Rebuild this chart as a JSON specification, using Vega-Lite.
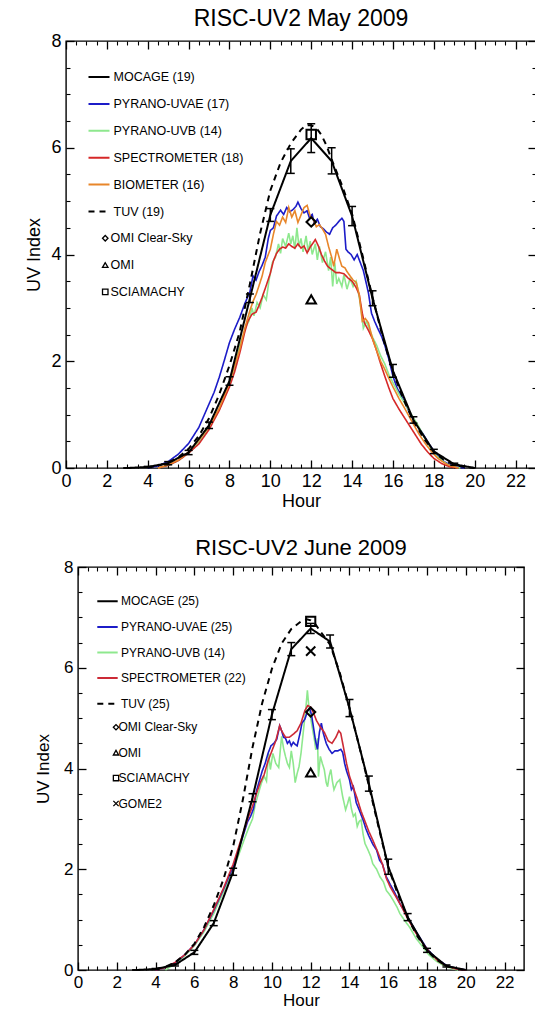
{
"$schema": "https://vega.github.io/schema/vega-lite/v6.json",
"padding": {"left": 25, "top": 7, "right": 0, "bottom": 0},
"bounds": "flush",
"center": true,
"spacing": 99,
"config": {
  "view": {"stroke": "black", "strokeWidth": 1.4},
  "font": "Liberation Sans",
  "axis": {"grid": false, "domain": false, "tickColor": "black", "labelColor": "black", "titleColor": "black", "labelFlush": false, "labelOverlap": false, "titleFontWeight": "normal", "labelFont": "Liberation Sans", "titleFont": "Liberation Sans"},
  "title": {"fontWeight": "normal", "color": "black", "font": "Liberation Sans", "frame": "group", "anchor": "middle"},
  "legend": {"labelFont": "Liberation Sans", "labelColor": "black", "title": null, "padding": 0, "labelLimit": 400}
},
"datasets": {
  "may_meas": [
    {"series":"PYRANO-UVAE (17)","hour":4.0,"uv":0.0},{"series":"PYRANO-UVAE (17)","hour":4.5,"uv":0.04},{"series":"PYRANO-UVAE (17)","hour":5.0,"uv":0.12},{"series":"PYRANO-UVAE (17)","hour":5.5,"uv":0.26},{"series":"PYRANO-UVAE (17)","hour":6.0,"uv":0.46},{"series":"PYRANO-UVAE (17)","hour":6.5,"uv":0.76},{"series":"PYRANO-UVAE (17)","hour":7.0,"uv":1.2},{"series":"PYRANO-UVAE (17)","hour":7.25,"uv":1.42},{"series":"PYRANO-UVAE (17)","hour":7.5,"uv":1.7},{"series":"PYRANO-UVAE (17)","hour":7.75,"uv":2.02},{"series":"PYRANO-UVAE (17)","hour":8.0,"uv":2.35},{"series":"PYRANO-UVAE (17)","hour":8.25,"uv":2.6},{"series":"PYRANO-UVAE (17)","hour":8.5,"uv":2.82},{"series":"PYRANO-UVAE (17)","hour":8.75,"uv":3.08},{"series":"PYRANO-UVAE (17)","hour":9.0,"uv":3.3},{"series":"PYRANO-UVAE (17)","hour":9.15,"uv":3.6},{"series":"PYRANO-UVAE (17)","hour":9.3,"uv":3.52},{"series":"PYRANO-UVAE (17)","hour":9.45,"uv":3.68},{"series":"PYRANO-UVAE (17)","hour":9.6,"uv":3.8},{"series":"PYRANO-UVAE (17)","hour":9.75,"uv":3.95},{"series":"PYRANO-UVAE (17)","hour":9.9,"uv":4.3},{"series":"PYRANO-UVAE (17)","hour":10.0,"uv":4.45},{"series":"PYRANO-UVAE (17)","hour":10.15,"uv":4.5},{"series":"PYRANO-UVAE (17)","hour":10.3,"uv":4.72},{"series":"PYRANO-UVAE (17)","hour":10.5,"uv":4.83},{"series":"PYRANO-UVAE (17)","hour":10.65,"uv":4.75},{"series":"PYRANO-UVAE (17)","hour":10.8,"uv":4.88},{"series":"PYRANO-UVAE (17)","hour":10.95,"uv":4.8},{"series":"PYRANO-UVAE (17)","hour":11.1,"uv":4.84},{"series":"PYRANO-UVAE (17)","hour":11.25,"uv":4.9},{"series":"PYRANO-UVAE (17)","hour":11.35,"uv":4.98},{"series":"PYRANO-UVAE (17)","hour":11.5,"uv":4.86},{"series":"PYRANO-UVAE (17)","hour":11.65,"uv":4.78},{"series":"PYRANO-UVAE (17)","hour":11.8,"uv":4.82},{"series":"PYRANO-UVAE (17)","hour":11.9,"uv":4.7},{"series":"PYRANO-UVAE (17)","hour":12.05,"uv":4.75},{"series":"PYRANO-UVAE (17)","hour":12.15,"uv":4.58},{"series":"PYRANO-UVAE (17)","hour":12.3,"uv":4.66},{"series":"PYRANO-UVAE (17)","hour":12.45,"uv":4.52},{"series":"PYRANO-UVAE (17)","hour":12.6,"uv":4.48},{"series":"PYRANO-UVAE (17)","hour":12.75,"uv":4.42},{"series":"PYRANO-UVAE (17)","hour":12.9,"uv":4.38},{"series":"PYRANO-UVAE (17)","hour":13.05,"uv":4.5},{"series":"PYRANO-UVAE (17)","hour":13.2,"uv":4.55},{"series":"PYRANO-UVAE (17)","hour":13.35,"uv":4.62},{"series":"PYRANO-UVAE (17)","hour":13.5,"uv":4.68},{"series":"PYRANO-UVAE (17)","hour":13.6,"uv":4.62},{"series":"PYRANO-UVAE (17)","hour":13.7,"uv":4.1},{"series":"PYRANO-UVAE (17)","hour":13.8,"uv":4.05},{"series":"PYRANO-UVAE (17)","hour":13.95,"uv":4.0},{"series":"PYRANO-UVAE (17)","hour":14.1,"uv":3.9},{"series":"PYRANO-UVAE (17)","hour":14.25,"uv":4.0},{"series":"PYRANO-UVAE (17)","hour":14.4,"uv":3.85},{"series":"PYRANO-UVAE (17)","hour":14.55,"uv":3.7},{"series":"PYRANO-UVAE (17)","hour":14.7,"uv":3.45},{"series":"PYRANO-UVAE (17)","hour":14.8,"uv":3.28},{"series":"PYRANO-UVAE (17)","hour":14.95,"uv":2.9},{"series":"PYRANO-UVAE (17)","hour":15.1,"uv":2.75},{"series":"PYRANO-UVAE (17)","hour":15.25,"uv":2.62},{"series":"PYRANO-UVAE (17)","hour":15.45,"uv":2.46},{"series":"PYRANO-UVAE (17)","hour":15.6,"uv":2.3},{"series":"PYRANO-UVAE (17)","hour":15.8,"uv":2.04},{"series":"PYRANO-UVAE (17)","hour":16.0,"uv":1.72},{"series":"PYRANO-UVAE (17)","hour":16.2,"uv":1.5},{"series":"PYRANO-UVAE (17)","hour":16.4,"uv":1.36},{"series":"PYRANO-UVAE (17)","hour":16.6,"uv":1.22},{"series":"PYRANO-UVAE (17)","hour":16.8,"uv":1.04},{"series":"PYRANO-UVAE (17)","hour":17.0,"uv":0.92},{"series":"PYRANO-UVAE (17)","hour":17.25,"uv":0.76},{"series":"PYRANO-UVAE (17)","hour":17.5,"uv":0.62},{"series":"PYRANO-UVAE (17)","hour":17.75,"uv":0.46},{"series":"PYRANO-UVAE (17)","hour":18.0,"uv":0.32},{"series":"PYRANO-UVAE (17)","hour":18.25,"uv":0.21},{"series":"PYRANO-UVAE (17)","hour":18.5,"uv":0.12},{"series":"PYRANO-UVAE (17)","hour":18.75,"uv":0.07},{"series":"PYRANO-UVAE (17)","hour":19.0,"uv":0.03},{"series":"PYRANO-UVAE (17)","hour":19.5,"uv":0.0},
    {"series":"PYRANO-UVB (14)","hour":4.5,"uv":0.0},{"series":"PYRANO-UVB (14)","hour":5.0,"uv":0.05},{"series":"PYRANO-UVB (14)","hour":5.5,"uv":0.14},{"series":"PYRANO-UVB (14)","hour":6.0,"uv":0.28},{"series":"PYRANO-UVB (14)","hour":6.5,"uv":0.48},{"series":"PYRANO-UVB (14)","hour":7.0,"uv":0.75},{"series":"PYRANO-UVB (14)","hour":7.5,"uv":1.1},{"series":"PYRANO-UVB (14)","hour":8.0,"uv":1.55},{"series":"PYRANO-UVB (14)","hour":8.25,"uv":1.85},{"series":"PYRANO-UVB (14)","hour":8.5,"uv":2.3},{"series":"PYRANO-UVB (14)","hour":8.65,"uv":2.45},{"series":"PYRANO-UVB (14)","hour":8.8,"uv":2.65},{"series":"PYRANO-UVB (14)","hour":8.95,"uv":2.75},{"series":"PYRANO-UVB (14)","hour":9.1,"uv":3.0},{"series":"PYRANO-UVB (14)","hour":9.2,"uv":2.85},{"series":"PYRANO-UVB (14)","hour":9.35,"uv":3.1},{"series":"PYRANO-UVB (14)","hour":9.5,"uv":3.0},{"series":"PYRANO-UVB (14)","hour":9.65,"uv":3.25},{"series":"PYRANO-UVB (14)","hour":9.8,"uv":3.15},{"series":"PYRANO-UVB (14)","hour":9.95,"uv":3.55},{"series":"PYRANO-UVB (14)","hour":10.1,"uv":3.85},{"series":"PYRANO-UVB (14)","hour":10.25,"uv":3.95},{"series":"PYRANO-UVB (14)","hour":10.4,"uv":4.2},{"series":"PYRANO-UVB (14)","hour":10.5,"uv":4.02},{"series":"PYRANO-UVB (14)","hour":10.6,"uv":4.3},{"series":"PYRANO-UVB (14)","hour":10.75,"uv":4.15},{"series":"PYRANO-UVB (14)","hour":10.9,"uv":4.4},{"series":"PYRANO-UVB (14)","hour":11.0,"uv":4.2},{"series":"PYRANO-UVB (14)","hour":11.1,"uv":4.35},{"series":"PYRANO-UVB (14)","hour":11.2,"uv":4.1},{"series":"PYRANO-UVB (14)","hour":11.3,"uv":4.5},{"series":"PYRANO-UVB (14)","hour":11.4,"uv":4.15},{"series":"PYRANO-UVB (14)","hour":11.5,"uv":4.3},{"series":"PYRANO-UVB (14)","hour":11.6,"uv":4.05},{"series":"PYRANO-UVB (14)","hour":11.75,"uv":4.35},{"series":"PYRANO-UVB (14)","hour":11.85,"uv":4.05},{"series":"PYRANO-UVB (14)","hour":11.95,"uv":4.25},{"series":"PYRANO-UVB (14)","hour":12.05,"uv":4.0},{"series":"PYRANO-UVB (14)","hour":12.2,"uv":4.2},{"series":"PYRANO-UVB (14)","hour":12.3,"uv":3.9},{"series":"PYRANO-UVB (14)","hour":12.4,"uv":4.15},{"series":"PYRANO-UVB (14)","hour":12.55,"uv":3.85},{"series":"PYRANO-UVB (14)","hour":12.7,"uv":4.05},{"series":"PYRANO-UVB (14)","hour":12.85,"uv":3.7},{"series":"PYRANO-UVB (14)","hour":12.95,"uv":3.95},{"series":"PYRANO-UVB (14)","hour":13.05,"uv":3.4},{"series":"PYRANO-UVB (14)","hour":13.15,"uv":3.85},{"series":"PYRANO-UVB (14)","hour":13.25,"uv":3.45},{"series":"PYRANO-UVB (14)","hour":13.35,"uv":3.55},{"series":"PYRANO-UVB (14)","hour":13.5,"uv":3.4},{"series":"PYRANO-UVB (14)","hour":13.6,"uv":3.62},{"series":"PYRANO-UVB (14)","hour":13.75,"uv":3.35},{"series":"PYRANO-UVB (14)","hour":13.9,"uv":3.55},{"series":"PYRANO-UVB (14)","hour":14.05,"uv":3.4},{"series":"PYRANO-UVB (14)","hour":14.2,"uv":3.5},{"series":"PYRANO-UVB (14)","hour":14.35,"uv":3.2},{"series":"PYRANO-UVB (14)","hour":14.45,"uv":2.95},{"series":"PYRANO-UVB (14)","hour":14.55,"uv":2.62},{"series":"PYRANO-UVB (14)","hour":14.7,"uv":2.75},{"series":"PYRANO-UVB (14)","hour":14.85,"uv":2.6},{"series":"PYRANO-UVB (14)","hour":15.0,"uv":2.45},{"series":"PYRANO-UVB (14)","hour":15.2,"uv":2.3},{"series":"PYRANO-UVB (14)","hour":15.4,"uv":2.1},{"series":"PYRANO-UVB (14)","hour":15.6,"uv":1.95},{"series":"PYRANO-UVB (14)","hour":15.8,"uv":1.75},{"series":"PYRANO-UVB (14)","hour":16.0,"uv":1.6},{"series":"PYRANO-UVB (14)","hour":16.3,"uv":1.38},{"series":"PYRANO-UVB (14)","hour":16.6,"uv":1.2},{"series":"PYRANO-UVB (14)","hour":16.9,"uv":1.0},{"series":"PYRANO-UVB (14)","hour":17.2,"uv":0.82},{"series":"PYRANO-UVB (14)","hour":17.5,"uv":0.6},{"series":"PYRANO-UVB (14)","hour":17.8,"uv":0.4},{"series":"PYRANO-UVB (14)","hour":18.1,"uv":0.24},{"series":"PYRANO-UVB (14)","hour":18.4,"uv":0.14},{"series":"PYRANO-UVB (14)","hour":18.7,"uv":0.06},{"series":"PYRANO-UVB (14)","hour":19.0,"uv":0.02},{"series":"PYRANO-UVB (14)","hour":19.3,"uv":0.0},
    {"series":"SPECTROMETER (18)","hour":4.5,"uv":0.0},{"series":"SPECTROMETER (18)","hour":5.0,"uv":0.05},{"series":"SPECTROMETER (18)","hour":5.5,"uv":0.14},{"series":"SPECTROMETER (18)","hour":6.0,"uv":0.28},{"series":"SPECTROMETER (18)","hour":6.5,"uv":0.45},{"series":"SPECTROMETER (18)","hour":7.0,"uv":0.72},{"series":"SPECTROMETER (18)","hour":7.5,"uv":1.08},{"series":"SPECTROMETER (18)","hour":8.0,"uv":1.52},{"series":"SPECTROMETER (18)","hour":8.25,"uv":1.8},{"series":"SPECTROMETER (18)","hour":8.5,"uv":2.15},{"series":"SPECTROMETER (18)","hour":8.75,"uv":2.55},{"series":"SPECTROMETER (18)","hour":8.9,"uv":2.75},{"series":"SPECTROMETER (18)","hour":9.1,"uv":2.88},{"series":"SPECTROMETER (18)","hour":9.3,"uv":2.92},{"series":"SPECTROMETER (18)","hour":9.45,"uv":3.05},{"series":"SPECTROMETER (18)","hour":9.6,"uv":3.2},{"series":"SPECTROMETER (18)","hour":9.8,"uv":3.42},{"series":"SPECTROMETER (18)","hour":10.0,"uv":3.65},{"series":"SPECTROMETER (18)","hour":10.15,"uv":3.88},{"series":"SPECTROMETER (18)","hour":10.3,"uv":4.02},{"series":"SPECTROMETER (18)","hour":10.45,"uv":4.1},{"series":"SPECTROMETER (18)","hour":10.6,"uv":4.14},{"series":"SPECTROMETER (18)","hour":10.75,"uv":4.12},{"series":"SPECTROMETER (18)","hour":10.9,"uv":4.2},{"series":"SPECTROMETER (18)","hour":11.05,"uv":4.15},{"series":"SPECTROMETER (18)","hour":11.2,"uv":4.12},{"series":"SPECTROMETER (18)","hour":11.35,"uv":4.2},{"series":"SPECTROMETER (18)","hour":11.5,"uv":4.12},{"series":"SPECTROMETER (18)","hour":11.65,"uv":4.16},{"series":"SPECTROMETER (18)","hour":11.8,"uv":4.03},{"series":"SPECTROMETER (18)","hour":11.95,"uv":4.14},{"series":"SPECTROMETER (18)","hour":12.1,"uv":4.22},{"series":"SPECTROMETER (18)","hour":12.2,"uv":4.28},{"series":"SPECTROMETER (18)","hour":12.35,"uv":4.16},{"series":"SPECTROMETER (18)","hour":12.5,"uv":4.0},{"series":"SPECTROMETER (18)","hour":12.65,"uv":3.88},{"series":"SPECTROMETER (18)","hour":12.8,"uv":3.78},{"series":"SPECTROMETER (18)","hour":13.0,"uv":3.72},{"series":"SPECTROMETER (18)","hour":13.2,"uv":3.66},{"series":"SPECTROMETER (18)","hour":13.4,"uv":3.66},{"series":"SPECTROMETER (18)","hour":13.6,"uv":3.64},{"series":"SPECTROMETER (18)","hour":13.8,"uv":3.56},{"series":"SPECTROMETER (18)","hour":14.0,"uv":3.5},{"series":"SPECTROMETER (18)","hour":14.2,"uv":3.38},{"series":"SPECTROMETER (18)","hour":14.35,"uv":3.25},{"series":"SPECTROMETER (18)","hour":14.5,"uv":2.9},{"series":"SPECTROMETER (18)","hour":14.6,"uv":2.72},{"series":"SPECTROMETER (18)","hour":14.8,"uv":2.58},{"series":"SPECTROMETER (18)","hour":15.0,"uv":2.42},{"series":"SPECTROMETER (18)","hour":15.2,"uv":2.2},{"series":"SPECTROMETER (18)","hour":15.4,"uv":1.95},{"series":"SPECTROMETER (18)","hour":15.6,"uv":1.72},{"series":"SPECTROMETER (18)","hour":15.8,"uv":1.5},{"series":"SPECTROMETER (18)","hour":16.0,"uv":1.3},{"series":"SPECTROMETER (18)","hour":16.3,"uv":1.1},{"series":"SPECTROMETER (18)","hour":16.6,"uv":0.92},{"series":"SPECTROMETER (18)","hour":17.0,"uv":0.68},{"series":"SPECTROMETER (18)","hour":17.4,"uv":0.44},{"series":"SPECTROMETER (18)","hour":17.7,"uv":0.3},{"series":"SPECTROMETER (18)","hour":18.0,"uv":0.18},{"series":"SPECTROMETER (18)","hour":18.4,"uv":0.08},{"series":"SPECTROMETER (18)","hour":18.8,"uv":0.02},{"series":"SPECTROMETER (18)","hour":19.2,"uv":0.0},
    {"series":"BIOMETER (16)","hour":4.5,"uv":0.0},{"series":"BIOMETER (16)","hour":5.0,"uv":0.06},{"series":"BIOMETER (16)","hour":5.5,"uv":0.15},{"series":"BIOMETER (16)","hour":6.0,"uv":0.3},{"series":"BIOMETER (16)","hour":6.5,"uv":0.52},{"series":"BIOMETER (16)","hour":7.0,"uv":0.78},{"series":"BIOMETER (16)","hour":7.5,"uv":1.12},{"series":"BIOMETER (16)","hour":8.0,"uv":1.6},{"series":"BIOMETER (16)","hour":8.25,"uv":1.92},{"series":"BIOMETER (16)","hour":8.5,"uv":2.22},{"series":"BIOMETER (16)","hour":8.75,"uv":2.62},{"series":"BIOMETER (16)","hour":9.0,"uv":2.95},{"series":"BIOMETER (16)","hour":9.15,"uv":3.12},{"series":"BIOMETER (16)","hour":9.3,"uv":3.25},{"series":"BIOMETER (16)","hour":9.45,"uv":3.42},{"series":"BIOMETER (16)","hour":9.6,"uv":3.6},{"series":"BIOMETER (16)","hour":9.75,"uv":3.85},{"series":"BIOMETER (16)","hour":9.9,"uv":4.0},{"series":"BIOMETER (16)","hour":10.0,"uv":4.1},{"series":"BIOMETER (16)","hour":10.15,"uv":4.38},{"series":"BIOMETER (16)","hour":10.3,"uv":4.62},{"series":"BIOMETER (16)","hour":10.45,"uv":4.55},{"series":"BIOMETER (16)","hour":10.6,"uv":4.7},{"series":"BIOMETER (16)","hour":10.75,"uv":4.6},{"series":"BIOMETER (16)","hour":10.9,"uv":4.88},{"series":"BIOMETER (16)","hour":11.05,"uv":4.7},{"series":"BIOMETER (16)","hour":11.2,"uv":4.82},{"series":"BIOMETER (16)","hour":11.35,"uv":4.6},{"series":"BIOMETER (16)","hour":11.5,"uv":4.74},{"series":"BIOMETER (16)","hour":11.65,"uv":4.88},{"series":"BIOMETER (16)","hour":11.8,"uv":4.92},{"series":"BIOMETER (16)","hour":11.95,"uv":4.72},{"series":"BIOMETER (16)","hour":12.1,"uv":4.66},{"series":"BIOMETER (16)","hour":12.25,"uv":4.52},{"series":"BIOMETER (16)","hour":12.4,"uv":4.56},{"series":"BIOMETER (16)","hour":12.55,"uv":4.48},{"series":"BIOMETER (16)","hour":12.7,"uv":4.38},{"series":"BIOMETER (16)","hour":12.85,"uv":4.15},{"series":"BIOMETER (16)","hour":13.0,"uv":3.95},{"series":"BIOMETER (16)","hour":13.1,"uv":3.78},{"series":"BIOMETER (16)","hour":13.25,"uv":4.1},{"series":"BIOMETER (16)","hour":13.4,"uv":3.9},{"series":"BIOMETER (16)","hour":13.5,"uv":3.78},{"series":"BIOMETER (16)","hour":13.65,"uv":3.75},{"series":"BIOMETER (16)","hour":13.75,"uv":3.68},{"series":"BIOMETER (16)","hour":13.9,"uv":3.6},{"series":"BIOMETER (16)","hour":14.05,"uv":3.52},{"series":"BIOMETER (16)","hour":14.2,"uv":3.48},{"series":"BIOMETER (16)","hour":14.35,"uv":3.25},{"series":"BIOMETER (16)","hour":14.5,"uv":2.75},{"series":"BIOMETER (16)","hour":14.65,"uv":2.8},{"series":"BIOMETER (16)","hour":14.8,"uv":2.72},{"series":"BIOMETER (16)","hour":15.0,"uv":2.42},{"series":"BIOMETER (16)","hour":15.2,"uv":2.2},{"series":"BIOMETER (16)","hour":15.4,"uv":2.0},{"series":"BIOMETER (16)","hour":15.6,"uv":1.85},{"series":"BIOMETER (16)","hour":15.8,"uv":1.68},{"series":"BIOMETER (16)","hour":16.0,"uv":1.52},{"series":"BIOMETER (16)","hour":16.3,"uv":1.3},{"series":"BIOMETER (16)","hour":16.6,"uv":1.1},{"series":"BIOMETER (16)","hour":17.0,"uv":0.82},{"series":"BIOMETER (16)","hour":17.3,"uv":0.62},{"series":"BIOMETER (16)","hour":17.6,"uv":0.45},{"series":"BIOMETER (16)","hour":17.9,"uv":0.3},{"series":"BIOMETER (16)","hour":18.2,"uv":0.18},{"series":"BIOMETER (16)","hour":18.5,"uv":0.1},{"series":"BIOMETER (16)","hour":18.8,"uv":0.04},{"series":"BIOMETER (16)","hour":19.2,"uv":0.0}
  ],
  "may_model": [
    {"series":"MOCAGE (19)","hour":3,"uv":0.0},{"series":"MOCAGE (19)","hour":4,"uv":0.02},{"series":"MOCAGE (19)","hour":5,"uv":0.09},{"series":"MOCAGE (19)","hour":6,"uv":0.29},{"series":"MOCAGE (19)","hour":7,"uv":0.8},{"series":"MOCAGE (19)","hour":8,"uv":1.63},{"series":"MOCAGE (19)","hour":9,"uv":3.18},{"series":"MOCAGE (19)","hour":10,"uv":4.74},{"series":"MOCAGE (19)","hour":11,"uv":5.75},{"series":"MOCAGE (19)","hour":12,"uv":6.18},{"series":"MOCAGE (19)","hour":13,"uv":5.75},{"series":"MOCAGE (19)","hour":14,"uv":4.72},{"series":"MOCAGE (19)","hour":15,"uv":3.18},{"series":"MOCAGE (19)","hour":16,"uv":1.82},{"series":"MOCAGE (19)","hour":17,"uv":0.9},{"series":"MOCAGE (19)","hour":18,"uv":0.31},{"series":"MOCAGE (19)","hour":19,"uv":0.07},{"series":"MOCAGE (19)","hour":20,"uv":0.0},
    {"series":"TUV (19)","hour":4,"uv":0.01},{"series":"TUV (19)","hour":4.5,"uv":0.04},{"series":"TUV (19)","hour":5,"uv":0.1},{"series":"TUV (19)","hour":5.5,"uv":0.2},{"series":"TUV (19)","hour":6,"uv":0.36},{"series":"TUV (19)","hour":6.5,"uv":0.6},{"series":"TUV (19)","hour":7,"uv":0.93},{"series":"TUV (19)","hour":7.5,"uv":1.38},{"series":"TUV (19)","hour":8,"uv":1.92},{"series":"TUV (19)","hour":8.5,"uv":2.55},{"series":"TUV (19)","hour":9,"uv":3.45},{"series":"TUV (19)","hour":9.5,"uv":4.4},{"series":"TUV (19)","hour":10,"uv":5.2},{"series":"TUV (19)","hour":10.5,"uv":5.72},{"series":"TUV (19)","hour":11,"uv":6.08},{"series":"TUV (19)","hour":11.5,"uv":6.34},{"series":"TUV (19)","hour":11.75,"uv":6.42},{"series":"TUV (19)","hour":12,"uv":6.42},{"series":"TUV (19)","hour":12.25,"uv":6.37},{"series":"TUV (19)","hour":12.5,"uv":6.24},{"series":"TUV (19)","hour":12.75,"uv":6.04},{"series":"TUV (19)","hour":13,"uv":5.78},{"series":"TUV (19)","hour":13.5,"uv":5.3},{"series":"TUV (19)","hour":14,"uv":4.76},{"series":"TUV (19)","hour":14.5,"uv":4.0},{"series":"TUV (19)","hour":15,"uv":3.2},{"series":"TUV (19)","hour":15.5,"uv":2.45},{"series":"TUV (19)","hour":16,"uv":1.8},{"series":"TUV (19)","hour":16.5,"uv":1.3},{"series":"TUV (19)","hour":17,"uv":0.88},{"series":"TUV (19)","hour":17.5,"uv":0.56},{"series":"TUV (19)","hour":18,"uv":0.3},{"series":"TUV (19)","hour":18.5,"uv":0.15},{"series":"TUV (19)","hour":19,"uv":0.06},{"series":"TUV (19)","hour":19.5,"uv":0.02},{"series":"TUV (19)","hour":20,"uv":0.0}
  ],
  "may_err": [
    {"hour":3,"lo":0.0,"hi":0.0},{"hour":4,"lo":0.01,"hi":0.03},{"hour":5,"lo":0.06,"hi":0.12},{"hour":6,"lo":0.25,"hi":0.33},{"hour":7,"lo":0.74,"hi":0.86},{"hour":8,"lo":1.55,"hi":1.71},{"hour":9,"lo":3.1,"hi":3.26},{"hour":10,"lo":4.62,"hi":4.86},{"hour":11,"lo":5.52,"hi":5.98},{"hour":12,"lo":5.91,"hi":6.45},{"hour":13,"lo":5.51,"hi":6.0},{"hour":14,"lo":4.54,"hi":4.9},{"hour":15,"lo":3.04,"hi":3.32},{"hour":16,"lo":1.7,"hi":1.94},{"hour":17,"lo":0.84,"hi":0.96},{"hour":18,"lo":0.27,"hi":0.35},{"hour":19,"lo":0.05,"hi":0.09}
  ],
  "may_pts": [
    {"sat":"OMI Clear-Sky","hour":12,"uv":4.61},{"sat":"OMI","hour":12,"uv":3.16},{"sat":"SCIAMACHY","hour":12,"uv":6.25}
  ],
  "jun_meas": [
    {"series":"PYRANO-UVB (14)","hour":4.5,"uv":0.0},{"series":"PYRANO-UVB (14)","hour":5.0,"uv":0.12},{"series":"PYRANO-UVB (14)","hour":5.5,"uv":0.28},{"series":"PYRANO-UVB (14)","hour":6.0,"uv":0.48},{"series":"PYRANO-UVB (14)","hour":6.5,"uv":0.76},{"series":"PYRANO-UVB (14)","hour":7.0,"uv":1.12},{"series":"PYRANO-UVB (14)","hour":7.5,"uv":1.55},{"series":"PYRANO-UVB (14)","hour":8.0,"uv":2.0},{"series":"PYRANO-UVB (14)","hour":8.3,"uv":2.3},{"series":"PYRANO-UVB (14)","hour":8.6,"uv":2.62},{"series":"PYRANO-UVB (14)","hour":8.8,"uv":2.82},{"series":"PYRANO-UVB (14)","hour":9.0,"uv":3.0},{"series":"PYRANO-UVB (14)","hour":9.15,"uv":3.3},{"series":"PYRANO-UVB (14)","hour":9.3,"uv":3.5},{"series":"PYRANO-UVB (14)","hour":9.45,"uv":3.7},{"series":"PYRANO-UVB (14)","hour":9.6,"uv":3.85},{"series":"PYRANO-UVB (14)","hour":9.72,"uv":3.75},{"series":"PYRANO-UVB (14)","hour":9.83,"uv":4.3},{"series":"PYRANO-UVB (14)","hour":9.92,"uv":3.98},{"series":"PYRANO-UVB (14)","hour":10.05,"uv":4.3},{"series":"PYRANO-UVB (14)","hour":10.2,"uv":4.1},{"series":"PYRANO-UVB (14)","hour":10.35,"uv":4.02},{"series":"PYRANO-UVB (14)","hour":10.5,"uv":4.64},{"series":"PYRANO-UVB (14)","hour":10.6,"uv":4.4},{"series":"PYRANO-UVB (14)","hour":10.7,"uv":4.24},{"series":"PYRANO-UVB (14)","hour":10.8,"uv":4.1},{"series":"PYRANO-UVB (14)","hour":10.9,"uv":4.02},{"series":"PYRANO-UVB (14)","hour":11.0,"uv":4.35},{"series":"PYRANO-UVB (14)","hour":11.1,"uv":4.1},{"series":"PYRANO-UVB (14)","hour":11.2,"uv":3.72},{"series":"PYRANO-UVB (14)","hour":11.3,"uv":3.9},{"series":"PYRANO-UVB (14)","hour":11.4,"uv":4.04},{"series":"PYRANO-UVB (14)","hour":11.5,"uv":4.3},{"series":"PYRANO-UVB (14)","hour":11.65,"uv":4.84},{"series":"PYRANO-UVB (14)","hour":11.75,"uv":5.2},{"series":"PYRANO-UVB (14)","hour":11.83,"uv":5.55},{"series":"PYRANO-UVB (14)","hour":11.9,"uv":5.25},{"series":"PYRANO-UVB (14)","hour":12.0,"uv":5.0},{"series":"PYRANO-UVB (14)","hour":12.1,"uv":4.77},{"series":"PYRANO-UVB (14)","hour":12.2,"uv":4.55},{"series":"PYRANO-UVB (14)","hour":12.26,"uv":4.37},{"series":"PYRANO-UVB (14)","hour":12.35,"uv":4.6},{"series":"PYRANO-UVB (14)","hour":12.4,"uv":3.84},{"series":"PYRANO-UVB (14)","hour":12.5,"uv":4.24},{"series":"PYRANO-UVB (14)","hour":12.6,"uv":4.1},{"series":"PYRANO-UVB (14)","hour":12.7,"uv":3.98},{"series":"PYRANO-UVB (14)","hour":12.8,"uv":3.72},{"series":"PYRANO-UVB (14)","hour":12.87,"uv":3.64},{"series":"PYRANO-UVB (14)","hour":12.95,"uv":3.85},{"series":"PYRANO-UVB (14)","hour":13.04,"uv":3.98},{"series":"PYRANO-UVB (14)","hour":13.12,"uv":3.75},{"series":"PYRANO-UVB (14)","hour":13.2,"uv":3.58},{"series":"PYRANO-UVB (14)","hour":13.35,"uv":3.72},{"series":"PYRANO-UVB (14)","hour":13.5,"uv":3.78},{"series":"PYRANO-UVB (14)","hour":13.6,"uv":3.55},{"series":"PYRANO-UVB (14)","hour":13.65,"uv":3.44},{"series":"PYRANO-UVB (14)","hour":13.8,"uv":3.18},{"series":"PYRANO-UVB (14)","hour":13.9,"uv":3.3},{"series":"PYRANO-UVB (14)","hour":14.0,"uv":3.44},{"series":"PYRANO-UVB (14)","hour":14.1,"uv":3.2},{"series":"PYRANO-UVB (14)","hour":14.2,"uv":3.05},{"series":"PYRANO-UVB (14)","hour":14.3,"uv":3.1},{"series":"PYRANO-UVB (14)","hour":14.4,"uv":2.85},{"series":"PYRANO-UVB (14)","hour":14.5,"uv":2.95},{"series":"PYRANO-UVB (14)","hour":14.6,"uv":2.98},{"series":"PYRANO-UVB (14)","hour":14.7,"uv":2.7},{"series":"PYRANO-UVB (14)","hour":14.8,"uv":2.51},{"series":"PYRANO-UVB (14)","hour":14.96,"uv":2.38},{"series":"PYRANO-UVB (14)","hour":15.1,"uv":2.25},{"series":"PYRANO-UVB (14)","hour":15.2,"uv":2.11},{"series":"PYRANO-UVB (14)","hour":15.4,"uv":2.0},{"series":"PYRANO-UVB (14)","hour":15.57,"uv":1.85},{"series":"PYRANO-UVB (14)","hour":15.75,"uv":1.75},{"series":"PYRANO-UVB (14)","hour":15.9,"uv":1.58},{"series":"PYRANO-UVB (14)","hour":16.1,"uv":1.48},{"series":"PYRANO-UVB (14)","hour":16.26,"uv":1.38},{"series":"PYRANO-UVB (14)","hour":16.45,"uv":1.25},{"series":"PYRANO-UVB (14)","hour":16.6,"uv":1.12},{"series":"PYRANO-UVB (14)","hour":16.85,"uv":0.98},{"series":"PYRANO-UVB (14)","hour":17.1,"uv":0.85},{"series":"PYRANO-UVB (14)","hour":17.45,"uv":0.62},{"series":"PYRANO-UVB (14)","hour":17.8,"uv":0.45},{"series":"PYRANO-UVB (14)","hour":18.1,"uv":0.3},{"series":"PYRANO-UVB (14)","hour":18.5,"uv":0.17},{"series":"PYRANO-UVB (14)","hour":18.9,"uv":0.08},{"series":"PYRANO-UVB (14)","hour":19.2,"uv":0.04},{"series":"PYRANO-UVB (14)","hour":19.6,"uv":0.0},
    {"series":"PYRANO-UVAE (25)","hour":4.0,"uv":0.0},{"series":"PYRANO-UVAE (25)","hour":4.5,"uv":0.05},{"series":"PYRANO-UVAE (25)","hour":5.0,"uv":0.14},{"series":"PYRANO-UVAE (25)","hour":5.5,"uv":0.3},{"series":"PYRANO-UVAE (25)","hour":6.0,"uv":0.5},{"series":"PYRANO-UVAE (25)","hour":6.5,"uv":0.8},{"series":"PYRANO-UVAE (25)","hour":7.0,"uv":1.18},{"series":"PYRANO-UVAE (25)","hour":7.5,"uv":1.6},{"series":"PYRANO-UVAE (25)","hour":8.0,"uv":2.05},{"series":"PYRANO-UVAE (25)","hour":8.25,"uv":2.35},{"series":"PYRANO-UVAE (25)","hour":8.5,"uv":2.65},{"series":"PYRANO-UVAE (25)","hour":8.75,"uv":2.95},{"series":"PYRANO-UVAE (25)","hour":8.9,"uv":3.05},{"series":"PYRANO-UVAE (25)","hour":9.05,"uv":3.2},{"series":"PYRANO-UVAE (25)","hour":9.2,"uv":3.55},{"series":"PYRANO-UVAE (25)","hour":9.35,"uv":3.75},{"series":"PYRANO-UVAE (25)","hour":9.5,"uv":3.95},{"series":"PYRANO-UVAE (25)","hour":9.65,"uv":4.1},{"series":"PYRANO-UVAE (25)","hour":9.8,"uv":4.3},{"series":"PYRANO-UVAE (25)","hour":9.95,"uv":4.45},{"series":"PYRANO-UVAE (25)","hour":10.1,"uv":4.5},{"series":"PYRANO-UVAE (25)","hour":10.25,"uv":4.58},{"series":"PYRANO-UVAE (25)","hour":10.4,"uv":4.85},{"series":"PYRANO-UVAE (25)","hour":10.5,"uv":4.75},{"series":"PYRANO-UVAE (25)","hour":10.6,"uv":4.62},{"series":"PYRANO-UVAE (25)","hour":10.7,"uv":4.6},{"series":"PYRANO-UVAE (25)","hour":10.8,"uv":4.5},{"series":"PYRANO-UVAE (25)","hour":10.9,"uv":4.55},{"series":"PYRANO-UVAE (25)","hour":11.0,"uv":4.45},{"series":"PYRANO-UVAE (25)","hour":11.1,"uv":4.52},{"series":"PYRANO-UVAE (25)","hour":11.2,"uv":4.48},{"series":"PYRANO-UVAE (25)","hour":11.3,"uv":4.45},{"series":"PYRANO-UVAE (25)","hour":11.45,"uv":4.7},{"series":"PYRANO-UVAE (25)","hour":11.55,"uv":4.9},{"series":"PYRANO-UVAE (25)","hour":11.7,"uv":4.98},{"series":"PYRANO-UVAE (25)","hour":11.85,"uv":5.15},{"series":"PYRANO-UVAE (25)","hour":11.95,"uv":5.2},{"series":"PYRANO-UVAE (25)","hour":12.05,"uv":5.05},{"series":"PYRANO-UVAE (25)","hour":12.15,"uv":4.8},{"series":"PYRANO-UVAE (25)","hour":12.25,"uv":4.55},{"series":"PYRANO-UVAE (25)","hour":12.35,"uv":4.38},{"series":"PYRANO-UVAE (25)","hour":12.45,"uv":4.72},{"series":"PYRANO-UVAE (25)","hour":12.55,"uv":4.9},{"series":"PYRANO-UVAE (25)","hour":12.65,"uv":4.7},{"series":"PYRANO-UVAE (25)","hour":12.8,"uv":4.5},{"series":"PYRANO-UVAE (25)","hour":12.95,"uv":4.38},{"series":"PYRANO-UVAE (25)","hour":13.1,"uv":4.3},{"series":"PYRANO-UVAE (25)","hour":13.25,"uv":4.35},{"series":"PYRANO-UVAE (25)","hour":13.4,"uv":4.35},{"series":"PYRANO-UVAE (25)","hour":13.55,"uv":4.38},{"series":"PYRANO-UVAE (25)","hour":13.65,"uv":4.32},{"series":"PYRANO-UVAE (25)","hour":13.75,"uv":4.1},{"series":"PYRANO-UVAE (25)","hour":13.85,"uv":3.95},{"series":"PYRANO-UVAE (25)","hour":14.0,"uv":3.78},{"series":"PYRANO-UVAE (25)","hour":14.1,"uv":3.58},{"series":"PYRANO-UVAE (25)","hour":14.2,"uv":3.64},{"series":"PYRANO-UVAE (25)","hour":14.35,"uv":3.32},{"series":"PYRANO-UVAE (25)","hour":14.5,"uv":3.18},{"series":"PYRANO-UVAE (25)","hour":14.7,"uv":2.98},{"series":"PYRANO-UVAE (25)","hour":14.85,"uv":2.8},{"series":"PYRANO-UVAE (25)","hour":15.0,"uv":2.66},{"series":"PYRANO-UVAE (25)","hour":15.2,"uv":2.5},{"series":"PYRANO-UVAE (25)","hour":15.4,"uv":2.38},{"series":"PYRANO-UVAE (25)","hour":15.55,"uv":2.18},{"series":"PYRANO-UVAE (25)","hour":15.7,"uv":2.1},{"series":"PYRANO-UVAE (25)","hour":15.9,"uv":1.85},{"series":"PYRANO-UVAE (25)","hour":16.1,"uv":1.7},{"series":"PYRANO-UVAE (25)","hour":16.3,"uv":1.56},{"series":"PYRANO-UVAE (25)","hour":16.6,"uv":1.32},{"series":"PYRANO-UVAE (25)","hour":17.0,"uv":1.05},{"series":"PYRANO-UVAE (25)","hour":17.5,"uv":0.72},{"series":"PYRANO-UVAE (25)","hour":18.0,"uv":0.42},{"series":"PYRANO-UVAE (25)","hour":18.5,"uv":0.22},{"series":"PYRANO-UVAE (25)","hour":19.0,"uv":0.09},{"series":"PYRANO-UVAE (25)","hour":19.5,"uv":0.03},{"series":"PYRANO-UVAE (25)","hour":20.0,"uv":0.0},
    {"series":"SPECTROMETER (22)","hour":4.0,"uv":0.0},{"series":"SPECTROMETER (22)","hour":4.5,"uv":0.05},{"series":"SPECTROMETER (22)","hour":5.0,"uv":0.15},{"series":"SPECTROMETER (22)","hour":5.5,"uv":0.3},{"series":"SPECTROMETER (22)","hour":6.0,"uv":0.5},{"series":"SPECTROMETER (22)","hour":6.5,"uv":0.8},{"series":"SPECTROMETER (22)","hour":7.0,"uv":1.2},{"series":"SPECTROMETER (22)","hour":7.5,"uv":1.62},{"series":"SPECTROMETER (22)","hour":8.0,"uv":2.1},{"series":"SPECTROMETER (22)","hour":8.25,"uv":2.4},{"series":"SPECTROMETER (22)","hour":8.5,"uv":2.7},{"series":"SPECTROMETER (22)","hour":8.75,"uv":3.0},{"series":"SPECTROMETER (22)","hour":9.0,"uv":3.25},{"series":"SPECTROMETER (22)","hour":9.2,"uv":3.5},{"series":"SPECTROMETER (22)","hour":9.4,"uv":3.72},{"series":"SPECTROMETER (22)","hour":9.6,"uv":3.88},{"series":"SPECTROMETER (22)","hour":9.8,"uv":4.15},{"series":"SPECTROMETER (22)","hour":10.0,"uv":4.35},{"series":"SPECTROMETER (22)","hour":10.2,"uv":4.55},{"series":"SPECTROMETER (22)","hour":10.4,"uv":4.85},{"series":"SPECTROMETER (22)","hour":10.5,"uv":4.75},{"series":"SPECTROMETER (22)","hour":10.7,"uv":4.62},{"series":"SPECTROMETER (22)","hour":10.9,"uv":4.62},{"series":"SPECTROMETER (22)","hour":11.1,"uv":4.68},{"series":"SPECTROMETER (22)","hour":11.3,"uv":4.75},{"series":"SPECTROMETER (22)","hour":11.5,"uv":4.9},{"series":"SPECTROMETER (22)","hour":11.7,"uv":5.15},{"series":"SPECTROMETER (22)","hour":11.85,"uv":5.25},{"series":"SPECTROMETER (22)","hour":12.0,"uv":5.22},{"series":"SPECTROMETER (22)","hour":12.15,"uv":5.1},{"series":"SPECTROMETER (22)","hour":12.3,"uv":4.95},{"series":"SPECTROMETER (22)","hour":12.5,"uv":4.82},{"series":"SPECTROMETER (22)","hour":12.7,"uv":4.72},{"series":"SPECTROMETER (22)","hour":12.9,"uv":4.55},{"series":"SPECTROMETER (22)","hour":13.1,"uv":4.5},{"series":"SPECTROMETER (22)","hour":13.3,"uv":4.62},{"series":"SPECTROMETER (22)","hour":13.45,"uv":4.75},{"series":"SPECTROMETER (22)","hour":13.55,"uv":4.7},{"series":"SPECTROMETER (22)","hour":13.7,"uv":4.4},{"series":"SPECTROMETER (22)","hour":13.85,"uv":4.1},{"series":"SPECTROMETER (22)","hour":14.0,"uv":3.85},{"series":"SPECTROMETER (22)","hour":14.2,"uv":3.62},{"series":"SPECTROMETER (22)","hour":14.4,"uv":3.4},{"series":"SPECTROMETER (22)","hour":14.6,"uv":3.15},{"series":"SPECTROMETER (22)","hour":14.8,"uv":2.95},{"series":"SPECTROMETER (22)","hour":15.0,"uv":2.75},{"series":"SPECTROMETER (22)","hour":15.2,"uv":2.58},{"series":"SPECTROMETER (22)","hour":15.45,"uv":2.35},{"series":"SPECTROMETER (22)","hour":15.7,"uv":2.1},{"series":"SPECTROMETER (22)","hour":15.9,"uv":1.82},{"series":"SPECTROMETER (22)","hour":16.1,"uv":1.65},{"series":"SPECTROMETER (22)","hour":16.4,"uv":1.45},{"series":"SPECTROMETER (22)","hour":16.7,"uv":1.25},{"series":"SPECTROMETER (22)","hour":17.0,"uv":1.02},{"series":"SPECTROMETER (22)","hour":17.4,"uv":0.75},{"series":"SPECTROMETER (22)","hour":17.8,"uv":0.52},{"series":"SPECTROMETER (22)","hour":18.2,"uv":0.32},{"series":"SPECTROMETER (22)","hour":18.6,"uv":0.17},{"series":"SPECTROMETER (22)","hour":19.0,"uv":0.08},{"series":"SPECTROMETER (22)","hour":19.5,"uv":0.02},{"series":"SPECTROMETER (22)","hour":20.0,"uv":0.0}
  ],
  "jun_model": [
    {"series":"MOCAGE (25)","hour":3,"uv":0.0},{"series":"MOCAGE (25)","hour":4,"uv":0.02},{"series":"MOCAGE (25)","hour":5,"uv":0.1},{"series":"MOCAGE (25)","hour":6,"uv":0.35},{"series":"MOCAGE (25)","hour":7,"uv":0.93},{"series":"MOCAGE (25)","hour":8,"uv":1.95},{"series":"MOCAGE (25)","hour":9,"uv":3.42},{"series":"MOCAGE (25)","hour":10,"uv":5.07},{"series":"MOCAGE (25)","hour":11,"uv":6.37},{"series":"MOCAGE (25)","hour":12,"uv":6.78},{"series":"MOCAGE (25)","hour":13,"uv":6.52},{"series":"MOCAGE (25)","hour":14,"uv":5.2},{"series":"MOCAGE (25)","hour":15,"uv":3.7},{"series":"MOCAGE (25)","hour":16,"uv":2.05},{"series":"MOCAGE (25)","hour":17,"uv":1.05},{"series":"MOCAGE (25)","hour":18,"uv":0.39},{"series":"MOCAGE (25)","hour":19,"uv":0.08},{"series":"MOCAGE (25)","hour":20,"uv":0.0},
    {"series":"TUV (25)","hour":4,"uv":0.02},{"series":"TUV (25)","hour":4.5,"uv":0.06},{"series":"TUV (25)","hour":5,"uv":0.15},{"series":"TUV (25)","hour":5.5,"uv":0.3},{"series":"TUV (25)","hour":6,"uv":0.52},{"series":"TUV (25)","hour":6.5,"uv":0.85},{"series":"TUV (25)","hour":7,"uv":1.28},{"series":"TUV (25)","hour":7.5,"uv":1.8},{"series":"TUV (25)","hour":8,"uv":2.45},{"series":"TUV (25)","hour":8.5,"uv":3.38},{"series":"TUV (25)","hour":9,"uv":4.42},{"series":"TUV (25)","hour":9.5,"uv":5.3},{"series":"TUV (25)","hour":10,"uv":5.98},{"series":"TUV (25)","hour":10.5,"uv":6.48},{"series":"TUV (25)","hour":11,"uv":6.77},{"series":"TUV (25)","hour":11.5,"uv":6.92},{"series":"TUV (25)","hour":11.8,"uv":6.96},{"series":"TUV (25)","hour":12,"uv":6.94},{"series":"TUV (25)","hour":12.25,"uv":6.86},{"series":"TUV (25)","hour":12.5,"uv":6.72},{"series":"TUV (25)","hour":13,"uv":6.46},{"series":"TUV (25)","hour":13.5,"uv":5.9},{"series":"TUV (25)","hour":14,"uv":5.2},{"series":"TUV (25)","hour":14.5,"uv":4.45},{"series":"TUV (25)","hour":15,"uv":3.66},{"series":"TUV (25)","hour":15.5,"uv":2.84},{"series":"TUV (25)","hour":16,"uv":2.04},{"series":"TUV (25)","hour":16.5,"uv":1.5},{"series":"TUV (25)","hour":17,"uv":1.04},{"series":"TUV (25)","hour":17.5,"uv":0.67},{"series":"TUV (25)","hour":18,"uv":0.38},{"series":"TUV (25)","hour":18.5,"uv":0.2},{"series":"TUV (25)","hour":19,"uv":0.08},{"series":"TUV (25)","hour":19.5,"uv":0.03},{"series":"TUV (25)","hour":20,"uv":0.0}
  ],
  "jun_err": [
    {"hour":3,"lo":0.0,"hi":0.0},{"hour":4,"lo":0.01,"hi":0.03},{"hour":5,"lo":0.08,"hi":0.12},{"hour":6,"lo":0.31,"hi":0.39},{"hour":7,"lo":0.88,"hi":0.98},{"hour":8,"lo":1.88,"hi":2.02},{"hour":9,"lo":3.34,"hi":3.5},{"hour":10,"lo":4.97,"hi":5.17},{"hour":11,"lo":6.24,"hi":6.5},{"hour":12,"lo":6.68,"hi":6.88},{"hour":13,"lo":6.39,"hi":6.65},{"hour":14,"lo":5.03,"hi":5.37},{"hour":15,"lo":3.55,"hi":3.85},{"hour":16,"lo":1.9,"hi":2.2},{"hour":17,"lo":0.98,"hi":1.12},{"hour":18,"lo":0.35,"hi":0.43},{"hour":19,"lo":0.06,"hi":0.1}
  ],
  "jun_pts": [
    {"sat":"OMI Clear-Sky","hour":12,"uv":5.12},{"sat":"OMI","hour":12,"uv":3.92},{"sat":"SCIAMACHY","hour":12,"uv":6.92},{"sat":"GOME2","hour":12,"uv":6.33}
  ]
},
"vconcat": [
  {
    "width": 470, "height": 427,
    "title": {"text": "RISC-UV2 May 2009", "fontSize": 23, "offset": 1},
    "layer": [
      {"data": {"name": "may_meas"}, "mark": {"type": "line", "strokeWidth": 1.6},
       "encoding": {
         "x": {"field": "hour", "type": "quantitative", "scale": {"domain": [0, 23], "nice": false, "zero": false},
               "axis": {"orient": "bottom", "values": [0,2,4,6,8,10,12,14,16,18,20,22], "tickSize": -8, "tickWidth": 1.3, "labelFontSize": 18, "labelPadding": 12.5, "title": "Hour", "titleFontSize": 18, "titlePadding": 2}},
         "y": {"field": "uv", "type": "quantitative", "scale": {"domain": [0, 8], "nice": false},
               "axis": {"orient": "left", "values": [0,2,4,6,8], "tickSize": -8, "tickWidth": 1.3, "labelFontSize": 18, "labelPadding": 13, "title": "UV Index", "titleFontSize": 18, "titlePadding": 7}},
         "color": {"field": "series", "type": "nominal",
                   "scale": {"domain": ["MOCAGE (19)", "PYRANO-UVAE (17)", "PYRANO-UVB (14)", "SPECTROMETER (18)", "BIOMETER (16)", "TUV (19)"], "range": ["#000000", "#1c1cc8", "#8ee88e", "#d62828", "#e8862a", "#000000"]},
                   "legend": {"orient": "none", "legendX": 21.5, "legendY": 24.5, "symbolType": "stroke", "symbolSize": 441, "symbolStrokeWidth": 2, "labelFontSize": 12.5, "labelOffset": 3, "rowPadding": 8.9}},
         "strokeDash": {"field": "series", "type": "nominal",
                   "scale": {"domain": ["MOCAGE (19)", "PYRANO-UVAE (17)", "PYRANO-UVB (14)", "SPECTROMETER (18)", "BIOMETER (16)", "TUV (19)"], "range": [[1,0],[1,0],[1,0],[1,0],[1,0],[6,5]]},
                   "legend": {"orient": "none", "legendX": 21.5, "legendY": 24.5, "symbolType": "stroke", "symbolSize": 441, "symbolStrokeWidth": 2, "labelFontSize": 12.5, "labelOffset": 3, "rowPadding": 8.9}}
       }},
      {"data": {"name": "may_model"}, "mark": {"type": "line", "strokeWidth": 2},
       "encoding": {
         "x": {"field": "hour", "type": "quantitative", "axis": {"orient": "bottom", "values": [0.5,1,1.5,2.5,3,3.5,4.5,5,5.5,6.5,7,7.5,8.5,9,9.5,10.5,11,11.5,12.5,13,13.5,14.5,15,15.5,16.5,17,17.5,18.5,19,19.5,20.5,21,21.5,22.5], "tickSize": -4, "tickWidth": 1.1, "labels": false, "title": null}},
         "y": {"field": "uv", "type": "quantitative", "axis": {"orient": "left", "values": [0.5,1,1.5,2.5,3,3.5,4.5,5,5.5,6.5,7,7.5], "tickSize": -4, "tickWidth": 1.1, "labels": false, "title": null}},
         "color": {"field": "series", "type": "nominal"},
         "strokeDash": {"field": "series", "type": "nominal"}
       }},
      {"data": {"name": "may_err"}, "mark": {"type": "rule", "strokeWidth": 1.5, "color": "black"},
       "encoding": {
         "x": {"field": "hour", "type": "quantitative", "axis": {"orient": "top", "values": [0,2,4,6,8,10,12,14,16,18,20,22], "tickSize": -8, "tickWidth": 1.3, "labels": false, "title": null}},
         "y": {"field": "lo", "type": "quantitative", "axis": {"orient": "right", "values": [0,2,4,6,8], "tickSize": -8, "tickWidth": 1.3, "labels": false, "title": null}},
         "y2": {"field": "hi"}
       }},
      {"data": {"name": "may_err"}, "mark": {"type": "tick", "orient": "horizontal", "size": 8, "thickness": 1.5, "color": "black", "opacity": 1},
       "encoding": {
         "x": {"field": "hour", "type": "quantitative", "axis": {"orient": "top", "values": [0.5,1,1.5,2.5,3,3.5,4.5,5,5.5,6.5,7,7.5,8.5,9,9.5,10.5,11,11.5,12.5,13,13.5,14.5,15,15.5,16.5,17,17.5,18.5,19,19.5,20.5,21,21.5,22.5], "tickSize": -4, "tickWidth": 1.1, "labels": false, "title": null}},
         "y": {"field": "lo", "type": "quantitative", "axis": {"orient": "right", "values": [0.5,1,1.5,2.5,3,3.5,4.5,5,5.5,6.5,7,7.5], "tickSize": -4, "tickWidth": 1.1, "labels": false, "title": null}}
       }},
      {"data": {"name": "may_err"}, "mark": {"type": "tick", "orient": "horizontal", "size": 8, "thickness": 1.5, "color": "black", "opacity": 1},
       "encoding": {
         "x": {"field": "hour", "type": "quantitative", "axis": null},
         "y": {"field": "hi", "type": "quantitative", "axis": null}
       }},
      {"data": {"name": "may_pts"}, "mark": {"type": "point", "filled": false, "color": "black", "strokeWidth": 2, "size": 90, "opacity": 1},
       "encoding": {
         "x": {"field": "hour", "type": "quantitative", "axis": null},
         "y": {"field": "uv", "type": "quantitative", "axis": null},
         "shape": {"field": "sat", "type": "nominal",
                   "scale": {"domain": ["OMI Clear-Sky", "OMI", "SCIAMACHY"], "range": ["diamond", "triangle-up", "square"]},
                   "legend": {"orient": "none", "legendX": 33, "legendY": 191, "symbolSize": 30, "symbolStrokeWidth": 1.3, "symbolStrokeColor": "black", "symbolFillColor": "transparent", "labelFontSize": 12.5, "labelOffset": -1, "rowPadding": 13.8}}
       }}
    ],
    "resolve": {"axis": {"x": "independent", "y": "independent"}}
  },
  {
    "width": 446, "height": 403,
    "title": {"text": "RISC-UV2 June 2009", "fontSize": 22, "offset": -2},
    "layer": [
      {"data": {"name": "jun_meas"}, "mark": {"type": "line", "strokeWidth": 1.6},
       "encoding": {
         "x": {"field": "hour", "type": "quantitative", "scale": {"domain": [0, 23], "nice": false, "zero": false},
               "axis": {"orient": "bottom", "values": [0,2,4,6,8,10,12,14,16,18,20,22], "tickSize": -8, "tickWidth": 1.3, "labelFontSize": 17, "labelPadding": 12.5, "title": "Hour", "titleFontSize": 17, "titlePadding": 2}},
         "y": {"field": "uv", "type": "quantitative", "scale": {"domain": [0, 8], "nice": false},
               "axis": {"orient": "left", "values": [0,2,4,6,8], "tickSize": -8, "tickWidth": 1.3, "labelFontSize": 17, "labelPadding": 13, "title": "UV Index", "titleFontSize": 17, "titlePadding": 11.5}},
         "color": {"field": "series", "type": "nominal",
                   "scale": {"domain": ["MOCAGE (25)", "PYRANO-UVAE (25)", "PYRANO-UVB (14)", "SPECTROMETER (22)", "TUV (25)"], "range": ["#000000", "#1c1cc8", "#8ee88e", "#cc2a36", "#000000"]},
                   "legend": {"orient": "none", "legendX": 18, "legendY": 22.8, "symbolType": "stroke", "symbolSize": 416, "symbolStrokeWidth": 2, "labelFontSize": 12, "labelOffset": 2, "rowPadding": 7.6}},
         "strokeDash": {"field": "series", "type": "nominal",
                   "scale": {"domain": ["MOCAGE (25)", "PYRANO-UVAE (25)", "PYRANO-UVB (14)", "SPECTROMETER (22)", "TUV (25)"], "range": [[1,0],[1,0],[1,0],[1,0],[6,5]]},
                   "legend": {"orient": "none", "legendX": 18, "legendY": 22.8, "symbolType": "stroke", "symbolSize": 416, "symbolStrokeWidth": 2, "labelFontSize": 12, "labelOffset": 2, "rowPadding": 7.6}}
       }},
      {"data": {"name": "jun_model"}, "mark": {"type": "line", "strokeWidth": 2},
       "encoding": {
         "x": {"field": "hour", "type": "quantitative", "axis": {"orient": "bottom", "values": [0.5,1,1.5,2.5,3,3.5,4.5,5,5.5,6.5,7,7.5,8.5,9,9.5,10.5,11,11.5,12.5,13,13.5,14.5,15,15.5,16.5,17,17.5,18.5,19,19.5,20.5,21,21.5,22.5], "tickSize": -4, "tickWidth": 1.1, "labels": false, "title": null}},
         "y": {"field": "uv", "type": "quantitative", "axis": {"orient": "left", "values": [0.5,1,1.5,2.5,3,3.5,4.5,5,5.5,6.5,7,7.5], "tickSize": -4, "tickWidth": 1.1, "labels": false, "title": null}},
         "color": {"field": "series", "type": "nominal"},
         "strokeDash": {"field": "series", "type": "nominal"}
       }},
      {"data": {"name": "jun_err"}, "mark": {"type": "rule", "strokeWidth": 1.5, "color": "black"},
       "encoding": {
         "x": {"field": "hour", "type": "quantitative", "axis": {"orient": "top", "values": [0,2,4,6,8,10,12,14,16,18,20,22], "tickSize": -8, "tickWidth": 1.3, "labels": false, "title": null}},
         "y": {"field": "lo", "type": "quantitative", "axis": {"orient": "right", "values": [0,2,4,6,8], "tickSize": -8, "tickWidth": 1.3, "labels": false, "title": null}},
         "y2": {"field": "hi"}
       }},
      {"data": {"name": "jun_err"}, "mark": {"type": "tick", "orient": "horizontal", "size": 8, "thickness": 1.5, "color": "black", "opacity": 1},
       "encoding": {
         "x": {"field": "hour", "type": "quantitative", "axis": {"orient": "top", "values": [0.5,1,1.5,2.5,3,3.5,4.5,5,5.5,6.5,7,7.5,8.5,9,9.5,10.5,11,11.5,12.5,13,13.5,14.5,15,15.5,16.5,17,17.5,18.5,19,19.5,20.5,21,21.5,22.5], "tickSize": -4, "tickWidth": 1.1, "labels": false, "title": null}},
         "y": {"field": "lo", "type": "quantitative", "axis": {"orient": "right", "values": [0.5,1,1.5,2.5,3,3.5,4.5,5,5.5,6.5,7,7.5], "tickSize": -4, "tickWidth": 1.1, "labels": false, "title": null}}
       }},
      {"data": {"name": "jun_err"}, "mark": {"type": "tick", "orient": "horizontal", "size": 8, "thickness": 1.5, "color": "black", "opacity": 1},
       "encoding": {
         "x": {"field": "hour", "type": "quantitative", "axis": null},
         "y": {"field": "hi", "type": "quantitative", "axis": null}
       }},
      {"data": {"name": "jun_pts"}, "mark": {"type": "point", "filled": false, "color": "black", "strokeWidth": 2, "size": 85, "opacity": 1},
       "encoding": {
         "x": {"field": "hour", "type": "quantitative", "axis": null},
         "y": {"field": "uv", "type": "quantitative", "axis": null},
         "shape": {"field": "sat", "type": "nominal",
                   "scale": {"domain": ["OMI Clear-Sky", "OMI", "SCIAMACHY", "GOME2"], "range": ["diamond", "triangle-up", "square", "M-1,-1L1,1M-1,1L1,-1"]},
                   "legend": {"orient": "none", "legendX": 32, "legendY": 154.3, "symbolSize": 28, "symbolStrokeWidth": 1.3, "symbolStrokeColor": "black", "symbolFillColor": "transparent", "labelFontSize": 12, "labelOffset": -3.5, "rowPadding": 13.4}}
       }}
    ],
    "resolve": {"axis": {"x": "independent", "y": "independent"}}
  }
],
"resolve": {"scale": {"color": "independent", "strokeDash": "independent", "shape": "independent"}, "legend": {"color": "independent", "strokeDash": "independent", "shape": "independent"}}
}
